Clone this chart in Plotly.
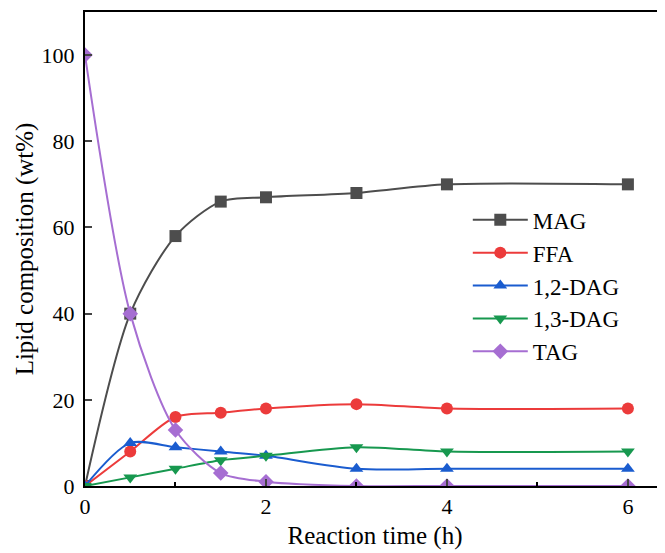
import plotly.graph_objects as go

time_h = [0, 0.5, 1, 1.5, 2, 3, 4, 6]
mag = [0, 40, 58, 66, 67, 68, 70, 70]
ffa = [0, 8, 16, 17, 18, 19, 18, 18]
dag12 = [0, 10, 9, 8, 7, 4, 4, 4]
dag13 = [0, 2, 4, 6, 7, 9, 8, 8]
tag = [100, 40, 13, 3, 1, 0, 0, 0]

series = [
    ("MAG", mag, "#4d4d4d", "square"),
    ("FFA", ffa, "#ec3b3b", "circle"),
    ("1,2-DAG", dag12, "#1a5ccf", "triangle-up"),
    ("1,3-DAG", dag13, "#17984f", "triangle-down"),
    ("TAG", tag, "#a66ed2", "diamond"),
]

fig = go.Figure()
for name, vals, color, sym in series:
    fig.add_trace(go.Scatter(
        x=time_h, y=vals, name=name, mode="lines+markers",
        line=dict(color=color, width=2, shape="spline", smoothing=0.8),
        marker=dict(symbol=sym, size=12, color=color),
    ))

font = "Liberation Serif, Times New Roman, serif"
fig.update_layout(
    width=657, height=545,
    margin=dict(l=77, r=0, t=4, b=67),
    paper_bgcolor="white", plot_bgcolor="white",
    font=dict(family=font, size=22, color="black"),
    showlegend=True,
    legend=dict(x=0.66, y=0.607, xanchor="left", yanchor="top",
                font=dict(family=font, size=23), itemwidth=55,
                tracegroupgap=0, bgcolor="rgba(0,0,0,0)"),
)
fig.update_xaxes(
    range=[0, 6.41], tickvals=[0, 2, 4, 6], ticks="inside", ticklen=7,
    tickwidth=2, showline=True, linecolor="black", linewidth=2, mirror=True,
    showgrid=False, zeroline=False, automargin=False,
    minor=dict(tickvals=[1, 3, 5], ticks="inside", ticklen=4, tickwidth=2, tickcolor="black", showgrid=False),
    title=dict(text="Reaction time (h)", font=dict(family=font, size=25), standoff=8),
    tickfont=dict(family=font, size=22),
)
fig.update_yaxes(
    range=[0, 110], tickvals=[0, 20, 40, 60, 80, 100], ticks="inside", ticklen=7,
    tickwidth=2, showline=True, linecolor="black", linewidth=2, mirror=False,
    showgrid=False, zeroline=False, automargin=False, ticklabelstandoff=4,
    title=dict(text="Lipid composition (wt%)", font=dict(family=font, size=25), standoff=1),
    tickfont=dict(family=font, size=22),
)
fig.write_html("out.html")
